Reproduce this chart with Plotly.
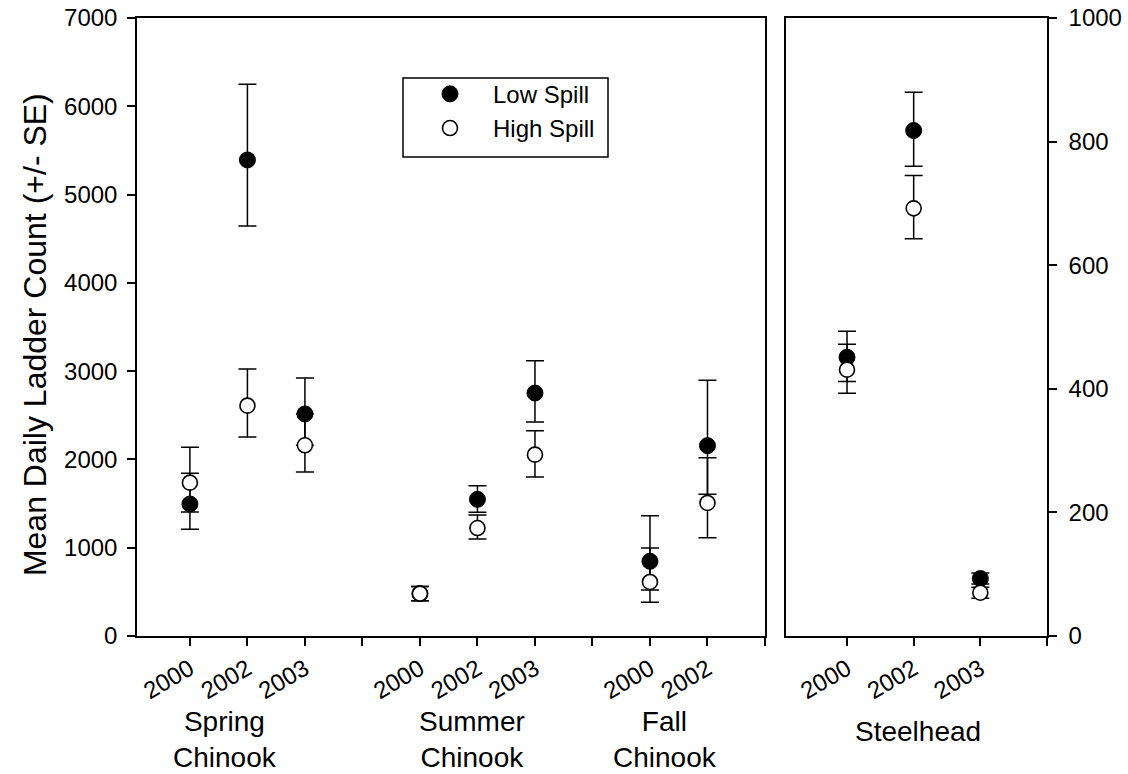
import plotly.graph_objects as go

# ---- data ----
left_categories = ["Spring 2000", "Spring 2002", "Spring 2003", " ",
                   "Summer 2000", "Summer 2002", "Summer 2003", "  ",
                   "Fall 2000", "Fall 2002", "   "]
left_ticktext = ["2000", "2002", "2003", "", "2000", "2002", "2003", "", "2000", "2002", ""]
left_points = ["Spring 2000", "Spring 2002", "Spring 2003",
               "Summer 2000", "Summer 2002", "Summer 2003",
               "Fall 2000", "Fall 2002"]
low_mean = [1495, 5392, 2515, 480, 1548, 2752, 846, 2156]
low_up = [348, 857, 407, 80, 155, 367, 517, 740]
low_down = [287, 748, 355, 80, 147, 328, 325, 551]
high_mean = [1737, 2609, 2160, 480, 1223, 2054, 612, 1507]
high_up = [400, 415, 355, 80, 148, 272, 385, 513]
high_down = [332, 355, 302, 80, 124, 253, 231, 393]

right_categories = ["2000", "2002", "2003", " "]
right_ticktext = ["2000", "2002", "2003", ""]
right_points = ["2000", "2002", "2003"]
sh_low_mean = [451, 818, 93]
sh_low_up = [42, 62, 9]
sh_low_down = [39, 58, 9]
sh_high_mean = [431, 692, 70]
sh_high_up = [41, 53, 9]
sh_high_down = [38, 49, 9]

left_ticks = [0, 1000, 2000, 3000, 4000, 5000, 6000, 7000]
right_ticks = [0, 200, 400, 600, 800, 1000]

FONT = "Liberation Sans, Arial, sans-serif"

fig = go.Figure()

def err(up, down):
    return dict(type="data", symmetric=False, array=up, arrayminus=down,
                color="black", thickness=1.5, width=9)

invisible = dict(size=1, color="rgba(0,0,0,0)")

# error bars first (beneath all markers)
for xs, ys, up, down, xa, ya in [
    (left_points, low_mean, low_up, low_down, "x", "y"),
    (left_points, high_mean, high_up, high_down, "x", "y"),
    (right_points, sh_low_mean, sh_low_up, sh_low_down, "x2", "y2"),
    (right_points, sh_high_mean, sh_high_up, sh_high_down, "x2", "y2"),
]:
    fig.add_trace(go.Scatter(x=xs, y=ys, mode="markers", marker=invisible,
                             error_y=err(up, down), xaxis=xa, yaxis=ya,
                             showlegend=False, hoverinfo="skip"))

filled = dict(symbol="circle", size=16, color="black", line=dict(color="black", width=1))
hollow = dict(symbol="circle", size=15, color="white", line=dict(color="black", width=1.6))

fig.add_trace(go.Scatter(x=left_points, y=low_mean, mode="markers", marker=filled,
                         name="Low Spill", legendgroup="low", xaxis="x", yaxis="y"))
fig.add_trace(go.Scatter(x=left_points, y=high_mean, mode="markers", marker=hollow,
                         name="High Spill", legendgroup="high", xaxis="x", yaxis="y"))
fig.add_trace(go.Scatter(x=right_points, y=sh_low_mean, mode="markers", marker=filled,
                         name="Low Spill", legendgroup="low", showlegend=False,
                         xaxis="x2", yaxis="y2"))
fig.add_trace(go.Scatter(x=right_points, y=sh_high_mean, mode="markers", marker=hollow,
                         name="High Spill", legendgroup="high", showlegend=False,
                         xaxis="x2", yaxis="y2"))

axis_common = dict(showline=True, linecolor="black", linewidth=1.5, mirror=True,
                   ticks="outside", ticklen=8, tickwidth=1.5, tickcolor="black",
                   showgrid=False, zeroline=False, automargin=False)

fig.update_layout(
    width=1128, height=774,
    margin=dict(l=137, r=81, t=18, b=138, autoexpand=False),
    plot_bgcolor="white", paper_bgcolor="white",
    font=dict(family=FONT, color="black", size=22),
    xaxis=dict(domain=[0, 0.6901], type="category", categoryorder="array",
               categoryarray=left_categories, range=[-0.92, 10.0],
               tickmode="array", tickvals=left_categories, ticktext=left_ticktext,
               tickangle=-30, tickfont=dict(size=24), **axis_common),
    yaxis=dict(range=[0, 7000], tickmode="array", tickvals=left_ticks,
               tickfont=dict(size=24), ticklabelstandoff=5, **axis_common),
    xaxis2=dict(domain=[0.7132, 1], anchor="y2", type="category", categoryorder="array",
                categoryarray=right_categories, range=[-0.915, 3.0],
                tickmode="array", tickvals=right_categories, ticktext=right_ticktext,
                tickangle=-30, tickfont=dict(size=24), **axis_common),
    yaxis2=dict(anchor="x2", side="right", range=[0, 1000], tickmode="array",
                tickvals=right_ticks, tickfont=dict(size=24), ticklabelstandoff=7,
                **axis_common),
    legend=dict(x=(407 - 137) / 910, y=0.913, xanchor="left", yanchor="top",
                borderwidth=0, bgcolor="rgba(0,0,0,0)",
                font=dict(size=24), itemwidth=76, tracegroupgap=0),
    showlegend=True,
)

# legend frame
fig.add_shape(type="rect", xref="paper", yref="paper",
              x0=(403 - 137) / 910, x1=(608 - 137) / 910,
              y0=(636 - 157) / 618, y1=(636 - 78) / 618,
              line=dict(color="black", width=1.5), fillcolor="rgba(0,0,0,0)", layer="below")

fig.add_annotation(text="Mean Daily Ladder Count (+/- SE)", xref="paper", yref="paper",
                   x=-0.112, y=0.487, xanchor="center", yanchor="middle",
                   textangle=-90, showarrow=False, font=dict(size=32))

for label, xref, xv, yv in [("Spring<br>Chinook", "x", 0.61, -0.168),
                            ("Summer<br>Chinook", "x", 4.906, -0.168),
                            ("Fall<br>Chinook", "x", 8.26, -0.168),
                            ("Steelhead", "x2", 1.065, -0.155)]:
    fig.add_annotation(text=label, xref=xref, yref="paper", x=xv, y=yv,
                       xanchor="center", yanchor="middle", showarrow=False,
                       font=dict(size=28))

fig.write_html("out.html")
